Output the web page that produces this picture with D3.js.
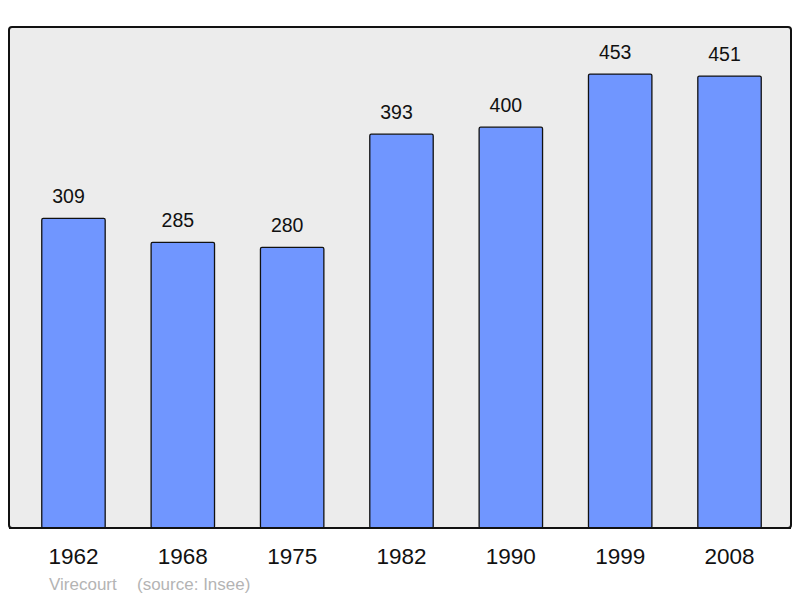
<!DOCTYPE html>
<html>
<head>
<meta charset="utf-8">
<script src="https://cdn.jsdelivr.net/npm/d3@7"></script>
<style>
  body { margin: 0; background: #fff; }
  text { font-family: "Liberation Sans", Arial, sans-serif; }
</style>
</head>
<body>
<div id="chart"></div>
<script>
const years = ['1962', '1968', '1975', '1982', '1990', '1999', '2008'];
const population = [309, 285, 280, 393, 400, 453, 451];
const commune = 'Virecourt';
const source = '(source: Insee)';

const width = 800;
const height = 598;
const panel = { left: 9, top: 27, right: 791, bottom: 528 };

const svg = d3.select('#chart')
  .append('svg')
  .attr('width', width)
  .attr('height', height);

// background panel
svg.append('rect')
  .attr('x', panel.left)
  .attr('y', panel.top)
  .attr('width', panel.right - panel.left)
  .attr('height', panel.bottom - panel.top)
  .attr('rx', 3)
  .attr('fill', '#ececec')
  .attr('stroke', '#111')
  .attr('stroke-width', 2);

const x = d3.scaleBand()
  .domain(years)
  .range([18.8, 784.2])
  .paddingInner(0.42)
  .paddingOuter(0.21);

const y = d3.scaleLinear()
  .domain([0, 500])
  .range([panel.bottom, panel.top]);

const data = years.map((yr, i) => ({ year: yr, value: population[i] }));

// bars
svg.append('g')
  .selectAll('rect')
  .data(data)
  .join('rect')
  .attr('x', d => x(d.year))
  .attr('y', d => y(d.value))
  .attr('width', x.bandwidth())
  .attr('height', d => y(0) - y(d.value))
  .attr('rx', 1.5)
  .attr('fill', '#7096ff')
  .attr('stroke', '#111')
  .attr('stroke-width', 1.3);

// value labels (sit a little left of the bar centre, like the original)
svg.append('g')
  .selectAll('text')
  .data(data)
  .join('text')
  .attr('x', d => x(d.year) + x.bandwidth() / 2 - 5)
  .attr('y', d => y(d.value) - 15)
  .attr('text-anchor', 'middle')
  .style('font-size', '19.5px')
  .attr('fill', '#111')
  .text(d => d.value);

// redraw bottom edge over bars
svg.append('line')
  .attr('x1', panel.left)
  .attr('x2', panel.right)
  .attr('y1', panel.bottom)
  .attr('y2', panel.bottom)
  .attr('stroke', '#111')
  .attr('stroke-width', 2);

// x axis labels
svg.append('g')
  .attr('transform', `translate(0,${panel.bottom})`)
  .call(d3.axisBottom(x).tickSize(0).tickPadding(20))
  .call(g => g.select('.domain').remove())
  .selectAll('text')
  .attr('fill', '#111')
  .style('font-size', '22.5px')
  .style('font-family', '"Liberation Sans", Arial, sans-serif');

// source
svg.append('text')
  .attr('x', 49)
  .attr('y', 590)
  .attr('fill', '#b4b4b4')
  .style('font-size', '17px')
  .text(commune);

svg.append('text')
  .attr('x', 137)
  .attr('y', 590)
  .attr('fill', '#b4b4b4')
  .style('font-size', '17px')
  .text(source);
</script>
</body>
</html>
